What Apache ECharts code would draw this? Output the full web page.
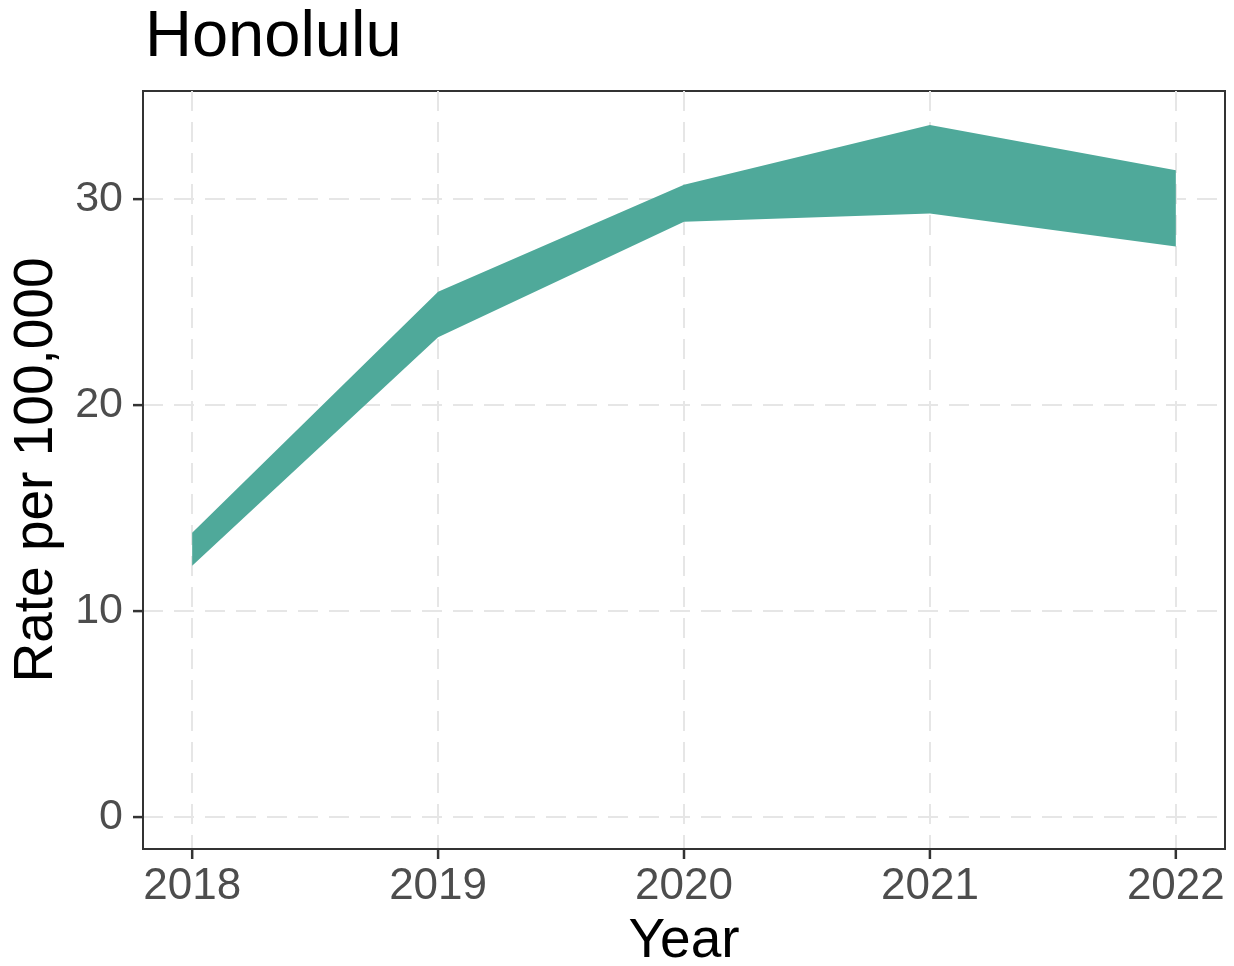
<!DOCTYPE html>
<html>
<head>
<meta charset="utf-8">
<title>Honolulu</title>
<script src="https://cdn.jsdelivr.net/npm/echarts@6/dist/echarts.min.js"></script>
<style>
  html, body { margin: 0; padding: 0; background: #ffffff; }
  #chart { width: 1234px; height: 966px; }
</style>
</head>
<body>
<div id="chart"></div>
<script>
// Rate per 100,000 — lower and upper bounds of the band for each year
const years = [2018, 2019, 2020, 2021, 2022];
const lowerRate = [12.2, 23.3, 28.9, 29.3, 27.7];
const upperRate = [13.8, 25.5, 30.7, 33.6, 31.4];
const yTicks = [0, 10, 20, 30];

const FONT = '"Liberation Sans", Arial, sans-serif';
const X_MIN = 2017.8, X_MAX = 2022.2;
const Y_MIN = -1.55, Y_MAX = 35.25;
const TICK_LEN = 10;
const bandData = years.map((y, i) => [y, lowerRate[i], upperRate[i]]);

const chart = echarts.init(document.getElementById('chart'), null, { renderer: 'canvas' });

const gridLine = { show: true, lineStyle: { color: '#e6e6e6', width: 2, type: [20, 11] } };
const frameLine = { show: true, onZero: false, lineStyle: { color: '#333333', width: 2 } };
const tickLineStyle = { stroke: '#333333', lineWidth: 2.5 };

chart.setOption({
  backgroundColor: '#ffffff',
  animation: false,
  title: {
    text: 'Honolulu',
    left: 140,
    top: 1,
    textStyle: { fontFamily: FONT, fontSize: 65, fontWeight: 'normal', color: '#000000' }
  },
  grid: {
    left: 143, right: 9, top: 91, bottom: 117,
    outerBoundsMode: 'none',
    containLabel: false,
    show: true, borderColor: '#333333', borderWidth: 2, backgroundColor: 'transparent'
  },
  xAxis: {
    type: 'value',
    position: 'bottom',
    min: X_MIN,
    max: X_MAX,
    name: 'Year',
    nameLocation: 'middle',
    nameGap: 64,
    nameTextStyle: { fontFamily: FONT, fontSize: 55, color: '#000000' },
    axisLine: frameLine,
    axisTick: { show: false, customValues: years },
    axisLabel: {
      customValues: years,
      margin: 16,
      fontFamily: FONT, fontSize: 44, color: '#4d4d4d',
      formatter: v => String(v)
    },
    splitLine: gridLine
  },
  yAxis: {
    type: 'value',
    position: 'left',
    min: Y_MIN,
    max: Y_MAX,
    name: 'Rate per 100,000',
    nameLocation: 'middle',
    nameGap: 78,
    nameRotate: 90,
    nameTextStyle: { fontFamily: FONT, fontSize: 55, color: '#000000' },
    axisLine: frameLine,
    axisTick: { show: false, customValues: yTicks },
    axisLabel: {
      customValues: yTicks,
      margin: 20,
      fontFamily: FONT, fontSize: 43, color: '#4d4d4d'
    },
    splitLine: gridLine
  },
  series: [
    {
      type: 'custom',
      name: 'Rate',
      data: bandData,
      encode: { x: 0, y: [1, 2] },
      renderItem: function (params, api) {
        // draw the whole band once, on the first data item
        if (params.dataIndex !== 0) return null;
        const upperPts = bandData.map(d => api.coord([d[0], d[2]]));
        const lowerPts = bandData.map(d => api.coord([d[0], d[1]])).reverse();
        return {
          type: 'polygon',
          shape: { points: upperPts.concat(lowerPts) },
          style: { fill: '#4fa99a' }
        };
      }
    },
    {
      // outward tick marks under the year axis
      type: 'custom',
      silent: true,
      clip: false,
      data: years.map(y => [y, Y_MIN]),
      encode: { x: 0, y: 1 },
      renderItem: function (params, api) {
        const p = api.coord([api.value(0), Y_MIN]);
        return {
          type: 'line',
          shape: { x1: p[0], y1: p[1], x2: p[0], y2: p[1] + TICK_LEN },
          style: tickLineStyle
        };
      }
    },
    {
      // outward tick marks left of the rate axis
      type: 'custom',
      silent: true,
      clip: false,
      data: yTicks.map(v => [X_MIN, v]),
      encode: { x: 0, y: 1 },
      renderItem: function (params, api) {
        const p = api.coord([X_MIN, api.value(1)]);
        return {
          type: 'line',
          shape: { x1: p[0] - TICK_LEN, y1: p[1], x2: p[0], y2: p[1] },
          style: tickLineStyle
        };
      }
    }
  ]
});
</script>
</body>
</html>
